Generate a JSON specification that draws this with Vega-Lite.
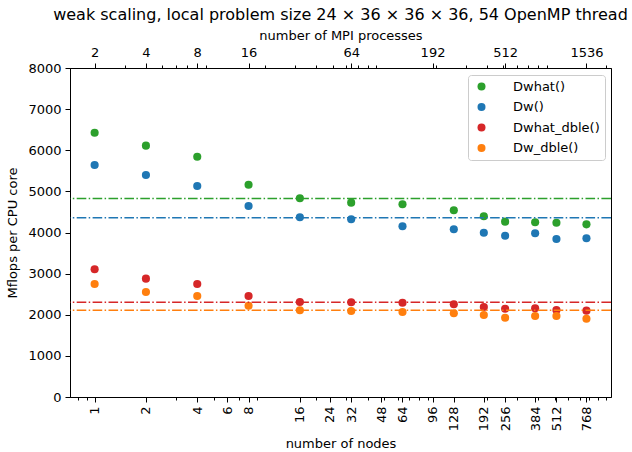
{
  "$schema": "https://vega.github.io/schema/vega-lite/v6.json",
  "width": 541,
  "height": 329,
  "autosize": {"type": "none"},
  "padding": {"left": 70, "top": 68, "right": 21, "bottom": 55},
  "background": "white",
  "title": {
    "text": "weak scaling, local problem size 24 × 36 × 36 × 36, 54 OpenMP thread",
    "font": "DejaVu Sans",
    "fontSize": 16,
    "fontWeight": "normal",
    "color": "black",
    "anchor": "middle",
    "offset": 6
  },
  "config": {
    "font": "DejaVu Sans",
    "view": {"stroke": "black", "strokeWidth": 1},
    "axis": {
      "labelFont": "DejaVu Sans",
      "labelFontSize": 13,
      "labelColor": "black",
      "titleFont": "DejaVu Sans",
      "titleFontSize": 13,
      "titleFontWeight": "normal",
      "titleColor": "black",
      "domainColor": "black",
      "tickColor": "black",
      "tickWidth": 1,
      "domainWidth": 1,
      "grid": false
    }
  },
  "datasets": {
    "pts": [
      {"nodes": 1, "series": "Dwhat()", "mflops": 6427},
      {"nodes": 2, "series": "Dwhat()", "mflops": 6111},
      {"nodes": 4, "series": "Dwhat()", "mflops": 5843},
      {"nodes": 8, "series": "Dwhat()", "mflops": 5162},
      {"nodes": 16, "series": "Dwhat()", "mflops": 4832},
      {"nodes": 32, "series": "Dwhat()", "mflops": 4725},
      {"nodes": 64, "series": "Dwhat()", "mflops": 4686},
      {"nodes": 128, "series": "Dwhat()", "mflops": 4540},
      {"nodes": 192, "series": "Dwhat()", "mflops": 4394},
      {"nodes": 256, "series": "Dwhat()", "mflops": 4263},
      {"nodes": 384, "series": "Dwhat()", "mflops": 4248},
      {"nodes": 512, "series": "Dwhat()", "mflops": 4238},
      {"nodes": 768, "series": "Dwhat()", "mflops": 4199},
      {"nodes": 1, "series": "Dw()", "mflops": 5641},
      {"nodes": 2, "series": "Dw()", "mflops": 5398},
      {"nodes": 4, "series": "Dw()", "mflops": 5131},
      {"nodes": 8, "series": "Dw()", "mflops": 4644},
      {"nodes": 16, "series": "Dw()", "mflops": 4370},
      {"nodes": 32, "series": "Dw()", "mflops": 4321},
      {"nodes": 64, "series": "Dw()", "mflops": 4151},
      {"nodes": 128, "series": "Dw()", "mflops": 4078},
      {"nodes": 192, "series": "Dw()", "mflops": 3995},
      {"nodes": 256, "series": "Dw()", "mflops": 3922},
      {"nodes": 384, "series": "Dw()", "mflops": 3981},
      {"nodes": 512, "series": "Dw()", "mflops": 3842},
      {"nodes": 768, "series": "Dw()", "mflops": 3859},
      {"nodes": 1, "series": "Dwhat_dble()", "mflops": 3105},
      {"nodes": 2, "series": "Dwhat_dble()", "mflops": 2877},
      {"nodes": 4, "series": "Dwhat_dble()", "mflops": 2748},
      {"nodes": 8, "series": "Dwhat_dble()", "mflops": 2456},
      {"nodes": 16, "series": "Dwhat_dble()", "mflops": 2310},
      {"nodes": 32, "series": "Dwhat_dble()", "mflops": 2303},
      {"nodes": 64, "series": "Dwhat_dble()", "mflops": 2293},
      {"nodes": 128, "series": "Dwhat_dble()", "mflops": 2254},
      {"nodes": 192, "series": "Dwhat_dble()", "mflops": 2188},
      {"nodes": 256, "series": "Dwhat_dble()", "mflops": 2147},
      {"nodes": 384, "series": "Dwhat_dble()", "mflops": 2157},
      {"nodes": 512, "series": "Dwhat_dble()", "mflops": 2116},
      {"nodes": 768, "series": "Dwhat_dble()", "mflops": 2099},
      {"nodes": 1, "series": "Dw_dble()", "mflops": 2748},
      {"nodes": 2, "series": "Dw_dble()", "mflops": 2553},
      {"nodes": 4, "series": "Dw_dble()", "mflops": 2456},
      {"nodes": 8, "series": "Dw_dble()", "mflops": 2220},
      {"nodes": 16, "series": "Dw_dble()", "mflops": 2108},
      {"nodes": 32, "series": "Dw_dble()", "mflops": 2091},
      {"nodes": 64, "series": "Dw_dble()", "mflops": 2067},
      {"nodes": 128, "series": "Dw_dble()", "mflops": 2035},
      {"nodes": 192, "series": "Dw_dble()", "mflops": 1994},
      {"nodes": 256, "series": "Dw_dble()", "mflops": 1928},
      {"nodes": 384, "series": "Dw_dble()", "mflops": 1970},
      {"nodes": 512, "series": "Dw_dble()", "mflops": 1970},
      {"nodes": 768, "series": "Dw_dble()", "mflops": 1904}
    ],
    "avg": [
      {"series": "Dwhat()", "mflops": 4827},
      {"series": "Dw()", "mflops": 4360},
      {"series": "Dwhat_dble()", "mflops": 2303},
      {"series": "Dw_dble()", "mflops": 2108}
    ]
  },
  "resolve": {"axis": {"x": "independent"}},
  "layer": [
    {
      "data": {"name": "pts"},
      "mark": {"type": "point", "filled": true, "size": 66, "opacity": 1},
      "encoding": {
        "x": {
          "field": "nodes",
          "type": "quantitative",
          "scale": {"type": "log", "domain": [0.717, 1070], "nice": false},
          "axis": {
            "orient": "bottom",
            "title": "number of nodes",
            "values": [0.8, 0.9, 1, 2, 3, 4, 5, 6, 7, 8, 9, 16, 20, 24, 30, 32, 40, 48, 50, 60, 64, 70, 80, 90, 96, 128, 192, 200, 256, 300, 384, 400, 500, 512, 600, 700, 768, 800, 900, 1000],
            "labelExpr": "indexof([1,2,4,6,8,16,24,32,48,64,96,128,192,256,384,512,768], datum.value) >= 0 ? format(datum.value, 'd') : ''",
            "tickSize": {"condition": {"test": "indexof([1,2,4,6,8,16,24,32,48,64,96,128,192,256,384,512,768], datum.value) >= 0", "value": 5}, "value": 3},
            "labelAngle": -90,
            "labelAlign": "right",
            "labelBaseline": "middle",
            "labelPadding": 4,
            "labelOverlap": false,
            "labelFlush": false,
            "titlePadding": 7
          }
        },
        "y": {
          "field": "mflops",
          "type": "quantitative",
          "scale": {"domain": [0, 8000], "nice": false, "zero": true},
          "axis": {
            "title": "Mflops per CPU core",
            "values": [0, 1000, 2000, 3000, 4000, 5000, 6000, 7000, 8000],
            "format": "d",
            "tickSize": 5,
            "labelPadding": 4,
            "titlePadding": 8
          }
        },
        "color": {
          "field": "series",
          "type": "nominal",
          "scale": {
            "domain": ["Dwhat()", "Dw()", "Dwhat_dble()", "Dw_dble()"],
            "range": ["#2ca02c", "#1f77b4", "#d62728", "#ff7f0e"]
          },
          "legend": {
            "title": null,
            "orient": "none",
            "legendX": 398,
            "legendY": 7,
            "symbolType": "circle",
            "symbolSize": 64,
            "symbolStrokeWidth": 0,
            "symbolOpacity": 1,
            "labelFont": "DejaVu Sans",
            "labelFontSize": 13,
            "labelColor": "black",
            "padding": 5,
            "symbolOffset": 2,
            "labelOffset": 25,
            "rowPadding": 6.5,
            "strokeColor": "#cccccc",
            "fillColor": "rgba(255,255,255,0.8)",
            "cornerRadius": 3
          }
        }
      }
    },
    {
      "data": {"name": "pts"},
      "mark": {"type": "point", "filled": true, "size": 64, "opacity": 0},
      "encoding": {
        "x": {
          "field": "nodes",
          "type": "quantitative",
          "scale": {"type": "log", "domain": [0.717, 1070], "nice": false},
          "axis": {
            "orient": "top",
            "title": "number of MPI processes",
            "values": [1, 1.5, 2, 2.5, 3, 3.5, 4, 4.5, 8, 10, 15, 20, 25, 30, 32, 35, 40, 45, 96, 100, 150, 200, 250, 256, 300, 350, 400, 450, 768, 1000],
            "labelExpr": "indexof([1,2,4,8,32,96,256,768], datum.value) >= 0 ? format(datum.value * 2, 'd') : ''",
            "tickSize": {"condition": {"test": "indexof([1,2,4,8,32,96,256,768], datum.value) >= 0", "value": 5}, "value": 3},
            "labelAngle": 0,
            "labelPadding": 4,
            "labelOverlap": false,
            "labelFlush": false,
            "titlePadding": 4
          }
        },
        "y": {
          "field": "mflops",
          "type": "quantitative",
          "scale": {"domain": [0, 8000], "nice": false, "zero": true},
          "axis": {
            "title": "Mflops per CPU core",
            "values": [0, 1000, 2000, 3000, 4000, 5000, 6000, 7000, 8000],
            "format": "d",
            "tickSize": 5,
            "labelPadding": 4,
            "titlePadding": 8
          }
        }
      }
    },
    {
      "data": {"name": "avg"},
      "mark": {"type": "rule", "strokeWidth": 1.5, "strokeDash": [9.6, 2.4, 1.5, 2.4]},
      "encoding": {
        "y": {
          "field": "mflops",
          "type": "quantitative",
          "scale": {"domain": [0, 8000], "nice": false, "zero": true},
          "axis": {
            "title": "Mflops per CPU core",
            "values": [0, 1000, 2000, 3000, 4000, 5000, 6000, 7000, 8000],
            "format": "d",
            "tickSize": 5,
            "labelPadding": 4,
            "titlePadding": 8
          }
        },
        "stroke": {
          "field": "series",
          "type": "nominal",
          "scale": {
            "domain": ["Dwhat()", "Dw()", "Dwhat_dble()", "Dw_dble()"],
            "range": ["#2ca02c", "#1f77b4", "#d62728", "#ff7f0e"]
          },
          "legend": null
        }
      }
    }
  ]
}
